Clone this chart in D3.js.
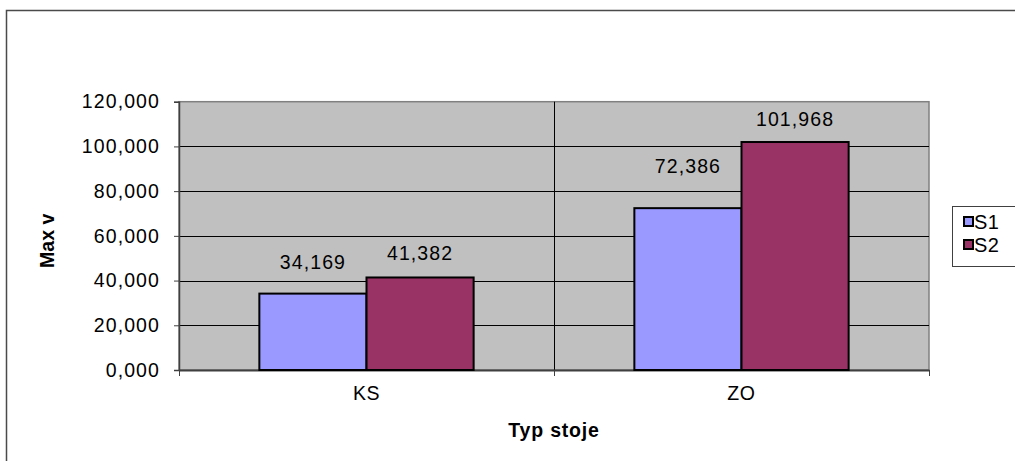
<!DOCTYPE html>
<html>
<head>
<meta charset="utf-8">
<script src="https://cdn.jsdelivr.net/npm/d3@7"></script>
<style>
  html, body { margin: 0; padding: 0; background: #fff; }
  svg { display: block; font-family: "Liberation Sans", Arial, sans-serif; }
</style>
</head>
<body>
<svg id="chart" width="1015" height="461"></svg>
<script>
// Chart data
const categories = ["KS", "ZO"];
const seriesNames = ["S1", "S2"];
const s1Values = [34.169, 72.386];
const s2Values = [41.382, 101.968];
const yTicks = [0, 20, 40, 60, 80, 100, 120];

// How far each value label sits above its bar end (px), per category then series
const labelLift = [[25, 17.6], [35, 16]];

const colors = { S1: "#9999ff", S2: "#993366" };
const fmt = v => d3.format(".3f")(v).replace(".", ",");
const tickFmt = v => d3.format(",.3f")(v).replace(/,/g, " ").replace(".", ",").replace(" ", ",");

const svg = d3.select("#chart");
const plot = { left: 179, right: 929, top: 101.7, bottom: 370 };

// Outer chart frame (open to the right and bottom edges of the page)
svg.append("rect")
  .attr("x", 6.5).attr("y", 10.5)
  .attr("width", 1040).attr("height", 480)
  .attr("fill", "none").attr("stroke", "#4a4a4a").attr("stroke-width", 1.5);

const x0 = d3.scaleBand().domain(categories).range([plot.left, plot.right]);
const x1 = d3.scaleBand().domain(seriesNames).range([0, x0.bandwidth()]).paddingOuter(0.75);
const y = d3.scaleLinear().domain([0, 120]).range([plot.bottom, plot.top]);

// Plot area background
svg.append("rect")
  .attr("x", plot.left).attr("y", plot.top)
  .attr("width", plot.right - plot.left).attr("height", plot.bottom - plot.top)
  .attr("fill", "#c0c0c0").attr("stroke", "#808080").attr("stroke-width", 1.5);

// Horizontal gridlines
svg.append("g").selectAll("line")
  .data(yTicks.filter(t => t > 0 && t < 120))
  .join("line")
  .attr("x1", plot.left).attr("x2", plot.right)
  .attr("y1", d => Math.round(y(d)) + 0.5).attr("y2", d => Math.round(y(d)) + 0.5)
  .attr("stroke", "#000").attr("stroke-width", 1);

// Vertical gridline between categories
svg.append("g").selectAll("line")
  .data(categories.slice(1))
  .join("line")
  .attr("x1", d => Math.round(x0(d)) + 0.5).attr("x2", d => Math.round(x0(d)) + 0.5)
  .attr("y1", plot.top).attr("y2", plot.bottom)
  .attr("stroke", "#000").attr("stroke-width", 1);

// Y axis
const yAxis = svg.append("g")
  .attr("transform", `translate(${plot.left},0)`)
  .call(d3.axisLeft(y).tickValues(yTicks).tickSize(5).tickPadding(14).tickFormat(tickFmt));
yAxis.select(".domain").attr("stroke", "#404040").attr("stroke-width", 1.5);
yAxis.selectAll(".tick line").attr("stroke", "#404040");
yAxis.selectAll("text")
  .attr("font-size", "19.5px").attr("fill", "#000")
  .attr("letter-spacing", "1.1px")
  .attr("font-family", "Liberation Sans, Arial, sans-serif");

// X axis
const xAxis = svg.append("g")
  .attr("transform", `translate(0,${plot.bottom})`)
  .call(d3.axisBottom(x0).tickSize(0).tickPadding(16));
xAxis.select(".domain").attr("stroke", "#404040").attr("stroke-width", 2);
xAxis.selectAll("text")
  .attr("font-size", "19.5px").attr("fill", "#000")
  .attr("letter-spacing", "0.6px")
  .attr("font-family", "Liberation Sans, Arial, sans-serif");
// category boundary tick marks
svg.append("g").selectAll("line")
  .data([plot.left, ...categories.slice(1).map(c => x0(c)), plot.right])
  .join("line")
  .attr("x1", d => Math.round(d) + 0.5).attr("x2", d => Math.round(d) + 0.5)
  .attr("y1", plot.bottom).attr("y2", plot.bottom + 6)
  .attr("stroke", "#404040").attr("stroke-width", 1);

// Bars
const rows = categories.map((c, i) => ({
  cat: c, ci: i,
  vals: [{ s: "S1", v: s1Values[i], si: 0 }, { s: "S2", v: s2Values[i], si: 1 }]
}));

const groups = svg.append("g").selectAll("g")
  .data(rows)
  .join("g")
  .attr("transform", d => `translate(${x0(d.cat)},0)`);

groups.selectAll("rect")
  .data(d => d.vals)
  .join("rect")
  .attr("x", d => x1(d.s))
  .attr("y", d => y(d.v))
  .attr("width", x1.bandwidth())
  .attr("height", d => y(0) - y(d.v))
  .attr("fill", d => colors[d.s])
  .attr("stroke", "#000").attr("stroke-width", 2);

// Value labels
groups.selectAll("text")
  .data(d => d.vals.map(v => ({ ...v, ci: d.ci })))
  .join("text")
  .attr("x", d => x1(d.s) + x1.bandwidth() / 2)
  .attr("y", d => y(d.v) - labelLift[d.ci][d.si])
  .attr("text-anchor", "middle")
  .attr("font-size", "19.5px")
  .attr("letter-spacing", "1.1px")
  .text(d => fmt(d.v));

// Axis titles
svg.append("text")
  .attr("x", (plot.left + plot.right) / 2).attr("y", 437)
  .attr("text-anchor", "middle")
  .attr("font-size", "19.5px").attr("font-weight", "bold")
  .attr("letter-spacing", "0.8px")
  .text("Typ stoje");

svg.append("text")
  .attr("transform", `translate(54,${(plot.top + plot.bottom) / 2 + 5}) rotate(-90)`)
  .attr("text-anchor", "middle")
  .attr("font-size", "19.5px").attr("font-weight", "bold")
  .text("Max v");

// Legend
const legend = svg.append("g");
legend.append("rect")
  .attr("x", 952.5).attr("y", 206.5).attr("width", 70).attr("height", 60)
  .attr("fill", "#fff").attr("stroke", "#404040").attr("stroke-width", 1);
const items = legend.selectAll("g.item")
  .data(seriesNames)
  .join("g").attr("class", "item")
  .attr("transform", (d, i) => `translate(964,${217 + i * 23})`);
items.append("rect")
  .attr("width", 9).attr("height", 9)
  .attr("fill", d => colors[d]).attr("stroke", "#000").attr("stroke-width", 2);
items.append("text")
  .attr("x", 10).attr("y", 11.5)
  .attr("font-size", "20px")
  .attr("letter-spacing", "0.5px")
  .text(d => d);
</script>
</body>
</html>
